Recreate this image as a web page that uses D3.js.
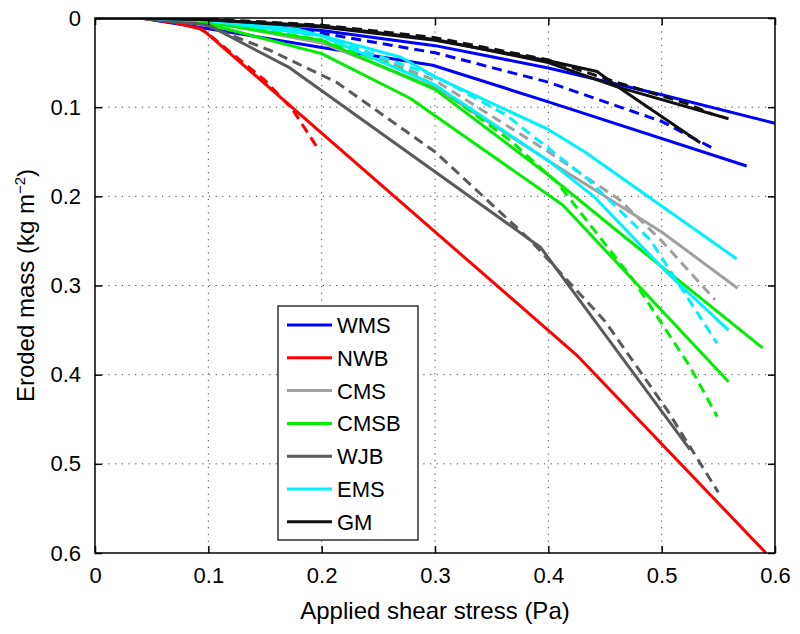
<!DOCTYPE html>
<html>
<head>
<meta charset="utf-8">
<script src="https://cdn.jsdelivr.net/npm/d3@7"></script>
<style>
  body { margin: 0; background: #fff; }
  svg { font-family: "Liberation Sans", Arial, sans-serif; }
</style>
</head>
<body>
<div id="chart"></div>
<script>
// legend / series names
var names = ["WMS", "NWB", "CMS", "CMSB", "WJB", "EMS", "GM"];
var colors = ["#0000ff", "#ff0000", "#a0a0a0", "#00ee00", "#5a5a5a", "#00f0ff", "#111111"];

var xTicks = [0, 0.1, 0.2, 0.3, 0.4, 0.5, 0.6];
var yTicks = [0, 0.1, 0.2, 0.3, 0.4, 0.5, 0.6];

// [stress, eroded mass] pairs
var wmsSolidA = [[0,0],[0.04,0],[0.1,0.004],[0.2,0.014],[0.3,0.031],[0.4,0.056],[0.5,0.086],[0.6,0.118]];
var wmsSolidB = [[0,0],[0.04,0],[0.1,0.012],[0.2,0.033],[0.298,0.053],[0.4,0.094],[0.575,0.166]];
var wmsDash   = [[0.1,0.003],[0.2,0.017],[0.3,0.039],[0.4,0.072],[0.5,0.116],[0.545,0.146]];

var nwbSolid = [[0,0],[0.04,0],[0.07,0.005],[0.095,0.013],[0.425,0.378],[0.592,0.6]];
var nwbDash  = [[0.09,0.01],[0.1,0.018],[0.15,0.07],[0.174,0.102],[0.197,0.147]];

var cmsSolid = [[0,0],[0.04,0],[0.1,0.004],[0.2,0.028],[0.3,0.078],[0.4,0.16],[0.5,0.24],[0.567,0.303]];
var cmsDash  = [[0.1,0.002],[0.2,0.02],[0.3,0.07],[0.4,0.15],[0.463,0.204],[0.5,0.25],[0.547,0.316]];

var cmsbSolidA = [[0,0],[0.04,0],[0.1,0.007],[0.2,0.04],[0.278,0.09],[0.413,0.21],[0.559,0.408]];
var cmsbSolidB = [[0,0],[0.04,0],[0.1,0.005],[0.2,0.025],[0.3,0.08],[0.4,0.176],[0.46,0.238],[0.589,0.37]];
var cmsbDash   = [[0.1,0.003],[0.2,0.025],[0.26,0.052],[0.3,0.075],[0.366,0.137],[0.408,0.185],[0.475,0.294],[0.525,0.391],[0.549,0.447]];

var wjbSolid = [[0,0],[0.04,0],[0.1,0.008],[0.172,0.056],[0.393,0.257],[0.525,0.484]];
var wjbDash  = [[0.04,0],[0.093,0.006],[0.154,0.036],[0.213,0.072],[0.3,0.15],[0.384,0.249],[0.45,0.34],[0.505,0.44],[0.55,0.532]];

var emsSolidA = [[0,0],[0.04,0],[0.1,0.002],[0.18,0.013],[0.27,0.044],[0.3,0.066],[0.4,0.125],[0.432,0.15],[0.566,0.27]];
var emsSolidB = [[0,0],[0.04,0],[0.1,0.003],[0.2,0.02],[0.3,0.075],[0.4,0.16],[0.44,0.2],[0.505,0.286],[0.559,0.35]];
var emsDash   = [[0.1,0.002],[0.2,0.02],[0.3,0.065],[0.363,0.109],[0.434,0.18],[0.49,0.249],[0.549,0.365]];

var gmSolidA = [[0,0],[0.04,0],[0.1,0.002],[0.2,0.01],[0.3,0.025],[0.4,0.048],[0.443,0.06],[0.46,0.076],[0.534,0.14]];
var gmSolidB = [[0,0],[0.04,0],[0.1,0.002],[0.2,0.009],[0.3,0.024],[0.4,0.05],[0.46,0.077],[0.559,0.113]];
var gmDash   = [[0.1,0.001],[0.2,0.008],[0.3,0.022],[0.4,0.047],[0.46,0.072],[0.52,0.095],[0.545,0.108]];

var series = [
  {c: 0, pts: wmsSolidA}, {c: 0, pts: wmsSolidB}, {c: 0, pts: wmsDash, dash: true},
  {c: 1, pts: nwbSolid}, {c: 1, pts: nwbDash, dash: true},
  {c: 2, pts: cmsSolid}, {c: 2, pts: cmsDash, dash: true},
  {c: 3, pts: cmsbSolidA}, {c: 3, pts: cmsbSolidB}, {c: 3, pts: cmsbDash, dash: true},
  {c: 4, pts: wjbSolid}, {c: 4, pts: wjbDash, dash: true},
  {c: 5, pts: emsSolidA}, {c: 5, pts: emsSolidB}, {c: 5, pts: emsDash, dash: true},
  {c: 6, pts: gmSolidA}, {c: 6, pts: gmSolidB}, {c: 6, pts: gmDash, dash: true}
];

var W = 800, H = 634;
var margin = {top: 18, right: 25, bottom: 81, left: 95},
    width = W - margin.left - margin.right,
    height = H - margin.top - margin.bottom;

var x = d3.scaleLinear().domain([0, 0.6]).range([0, width]);
var y = d3.scaleLinear().domain([0, 0.6]).range([0, height]);

var svg = d3.select("#chart").append("svg")
    .attr("width", W)
    .attr("height", H);

svg.append("defs").append("clipPath").attr("id", "plot-clip")
  .append("rect").attr("width", width).attr("height", height);

var g = svg.append("g")
    .attr("transform", "translate(" + margin.left + "," + margin.top + ")");

// dotted grid
g.append("g").selectAll("line.vg")
    .data(xTicks.slice(1, -1))
  .enter().append("line")
    .attr("x1", d => x(d)).attr("x2", d => x(d))
    .attr("y1", 0).attr("y2", height)
    .attr("stroke", "#444").attr("stroke-width", 1)
    .attr("stroke-dasharray", "1.2,5.5");

g.append("g").selectAll("line.hg")
    .data(yTicks.slice(1, -1))
  .enter().append("line")
    .attr("x1", 0).attr("x2", width)
    .attr("y1", d => y(d)).attr("y2", d => y(d))
    .attr("stroke", "#444").attr("stroke-width", 1)
    .attr("stroke-dasharray", "1.2,5.5");

var line = d3.line()
    .x(d => x(d[0]))
    .y(d => y(d[1]));

g.append("g").attr("clip-path", "url(#plot-clip)")
  .selectAll("path")
    .data(series)
  .enter().append("path")
    .attr("d", d => line(d.pts))
    .attr("fill", "none")
    .attr("stroke", d => colors[d.c])
    .attr("stroke-width", 3)
    .attr("stroke-linejoin", "round")
    .attr("stroke-dasharray", d => d.dash ? "10,6" : null);

// axes: inner ticks on all four sides
var xAxis = d3.axisBottom(x).tickValues(xTicks).tickSizeInner(-7).tickSizeOuter(0)
    .tickPadding(14).tickFormat(d => d === 0 ? "0" : d3.format(".1f")(d));
var yAxis = d3.axisLeft(y).tickValues(yTicks).tickSizeInner(-7).tickSizeOuter(0)
    .tickPadding(14).tickFormat(d => d === 0 ? "0" : d3.format(".1f")(d));

var gx = g.append("g").attr("transform", "translate(0," + height + ")").call(xAxis);
var gy = g.append("g").call(yAxis);
g.append("g").call(d3.axisTop(x).tickValues(xTicks).tickSize(-7).tickFormat(""));
g.append("g").attr("transform", "translate(" + width + ",0)")
  .call(d3.axisRight(y).tickValues(yTicks).tickSize(-7).tickFormat(""));

g.selectAll(".domain").remove();
g.selectAll(".tick line").attr("stroke", "#000").attr("stroke-width", 1.5);
gx.selectAll("text").attr("font-size", 22).attr("fill", "#000");
gy.selectAll("text").attr("font-size", 22).attr("fill", "#000");

g.append("rect")
    .attr("width", width).attr("height", height)
    .attr("fill", "none").attr("stroke", "#000").attr("stroke-width", 1.5);

// axis titles
svg.append("text")
    .attr("x", margin.left + width / 2).attr("y", 619)
    .attr("text-anchor", "middle").attr("font-size", 24)
    .text("Applied shear stress (Pa)");

var yl = svg.append("text")
    .attr("transform", "translate(34," + (margin.top + height / 2) + ") rotate(-90)")
    .attr("text-anchor", "middle").attr("font-size", 24);
yl.append("tspan").text("Eroded mass (kg m");
yl.append("tspan").attr("font-size", 15).attr("dy", -9).text("\u22122");
yl.append("tspan").attr("dy", 9).text(")");

// legend
var lg = svg.append("g").attr("transform", "translate(278,306)");
lg.append("rect").attr("width", 140).attr("height", 234)
    .attr("fill", "#fff").attr("stroke", "#000").attr("stroke-width", 1.2);
var items = lg.selectAll("g.item").data(names)
  .enter().append("g")
    .attr("transform", (d, i) => "translate(0," + (19 + i * 32.8) + ")");
items.append("line")
    .attr("x1", 9).attr("x2", 54).attr("y1", 0).attr("y2", 0)
    .attr("stroke", (d, i) => colors[i]).attr("stroke-width", 3);
items.append("text")
    .attr("x", 59).attr("y", 0).attr("dy", "0.36em")
    .attr("font-size", 22)
    .text(d => d);
</script>
</body>
</html>
